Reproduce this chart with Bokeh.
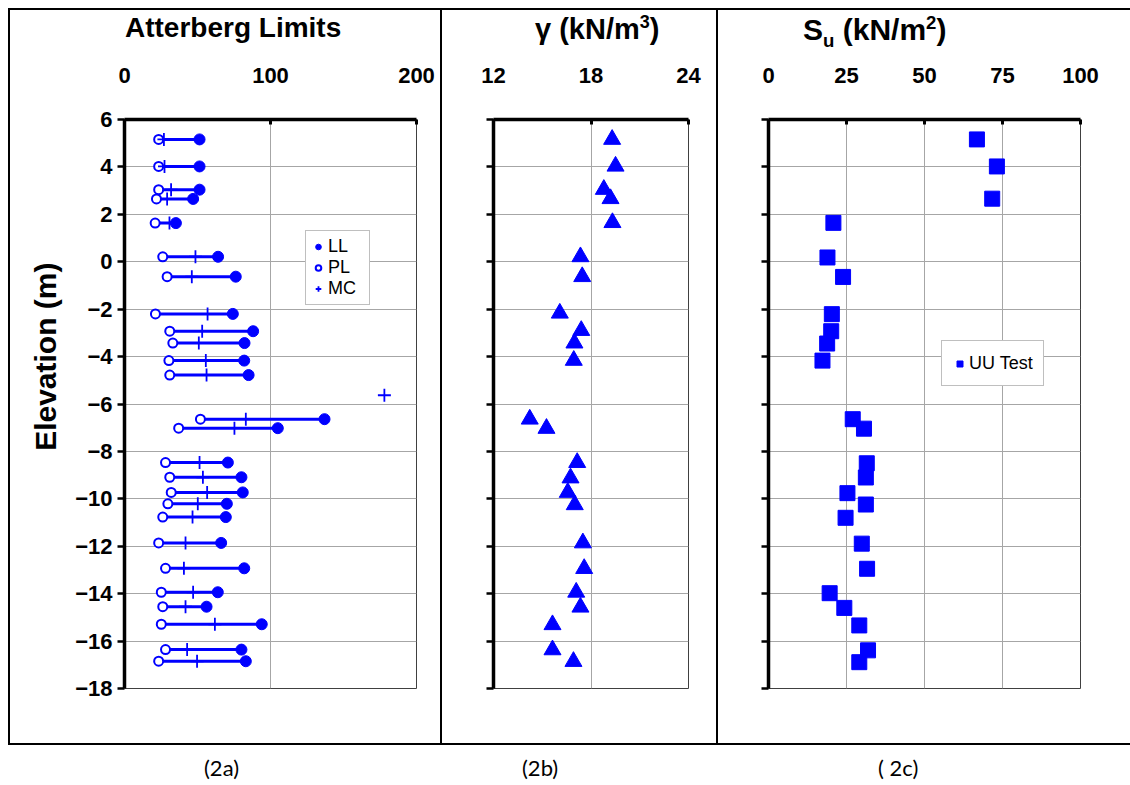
from bokeh.plotting import figure
from bokeh.models import (Range1d, FixedTicker, Title, Legend, LegendItem, Div,
                          CustomJSTickFormatter)
from bokeh.layouts import row, column
from bokeh.embed import file_html
from bokeh.resources import INLINE

# ---------------- data ----------------
# Atterberg limits
al_elev = [5.16, 4.02, 3.04, 2.65, 1.63, 0.21, -0.63, -2.20, -2.93, -3.43, -4.17, -4.78,
           -6.64, -7.02, -8.47, -9.09, -9.73, -10.21, -10.77, -11.86, -12.93, -13.94,
           -14.55, -15.29, -16.36, -16.85]
pl = [23.4, 23.4, 23.4, 21.9, 21.0, 26.2, 29.2, 21.2, 31.0, 33.1, 30.4, 31.0,
      52.0, 37.1, 28.1, 31.0, 32.0, 29.7, 26.2, 23.4, 28.1, 25.2, 26.2, 25.2, 28.1, 23.4]
mc = [27.0, 27.4, 31.9, 29.2, 30.8, 48.6, 46.1, 56.9, 53.2, 50.9, 55.7, 56.2,
      83.1, 75.3, 51.4, 53.7, 56.6, 50.2, 46.6, 41.8, 40.7, 47.0, 41.8, 61.9, 42.9, 49.7]
ll = [51.4, 51.4, 51.4, 47.0, 35.2, 64.1, 76.2, 74.2, 88.1, 82.2, 82.0, 85.0,
      137.0, 105.0, 70.8, 80.1, 81.0, 70.1, 69.4, 66.2, 82.0, 63.9, 56.2, 94.0, 80.1, 83.1]
mc_extra_elev = [-5.63]
mc_extra = [178.0]

# Unit weight
g_elev = [5.16, 4.03, 3.05, 2.66, 1.65, 0.21, -0.63, -2.17, -2.90, -3.43, -4.16,
          -6.64, -7.03, -8.47, -9.12, -9.73, -10.25, -11.86, -12.94, -13.94, -14.57,
          -15.31, -16.37, -16.86]
gamma = [19.30, 19.51, 18.79, 19.20, 19.32, 17.35, 17.46, 16.08, 17.40, 16.98, 16.94,
         14.23, 15.26, 17.15, 16.74, 16.57, 17.00, 17.50, 17.58, 17.09, 17.35,
         15.63, 15.63, 16.92]

# Undrained shear strength
s_elev = [5.16, 4.02, 2.66, 1.64, 0.18, -0.64, -2.21, -2.93, -3.45, -4.17,
          -6.64, -7.04, -8.50, -9.10, -9.76, -10.24, -10.80, -11.89, -12.95, -13.98,
          -14.60, -15.34, -16.39, -16.89]
su = [66.8, 73.2, 71.7, 20.8, 18.9, 23.9, 20.3, 20.1, 18.8, 17.3,
      27.0, 30.6, 31.5, 31.2, 25.3, 31.2, 24.7, 29.9, 31.6, 19.6,
      24.3, 29.1, 31.9, 29.1]

elev_ticks = list(range(-18, 7, 2))
al_ticks = [0, 100, 200]
g_ticks = [12, 18, 24]
su_ticks = [0, 25, 50, 75, 100]

titles = ["Atterberg Limits",
          "γ (kN/m<sup style='font-size:62%'>3</sup>)",
          "S<sub style='font-size:62%'>u</sub> (kN/m<sup style='font-size:62%'>2</sup>)"]
captions = ["(2a)", "(2b)", "( 2c)"]

# ---------------- style ----------------
BLUE = "#0000FF"
FONT = "Liberation Sans"
GRID = "#a6a6a6"
H = 689
TH = 48
BORDER = "2px solid black"
W = [434, 276, 412]


def style(p, xticks, show_ylabels):
    p.background_fill_color = "white"
    p.border_fill_color = "white"
    p.outline_line_color = "#404040"
    p.outline_line_width = 1
    xa = p.xaxis[0]
    xa.ticker = FixedTicker(ticks=xticks)
    xa.axis_line_width = 3.5
    xa.axis_line_color = "black"
    xa.major_tick_in = 5
    xa.major_tick_out = 0
    xa.major_tick_line_width = 3
    xa.minor_tick_line_color = None
    xa.major_label_text_font = FONT
    xa.major_label_text_font_style = "bold"
    xa.major_label_text_font_size = "22px"
    xa.major_label_text_color = "black"
    xa.major_label_standoff = 37
    ya = p.yaxis[0]
    ya.ticker = FixedTicker(ticks=elev_ticks)
    ya.axis_line_width = 3.5
    ya.axis_line_color = "black"
    ya.major_tick_in = 0
    ya.major_tick_out = 7
    ya.major_tick_line_width = 2.5
    ya.minor_tick_line_color = None
    ya.major_label_text_font = FONT
    ya.major_label_text_font_style = "bold"
    ya.major_label_text_font_size = "22px"
    ya.major_label_text_color = "black"
    ya.major_label_standoff = 5
    if not show_ylabels:
        ya.formatter = CustomJSTickFormatter(code="return ''")
    p.xgrid.grid_line_color = GRID
    p.ygrid.grid_line_color = GRID
    p.xgrid.grid_line_width = 1
    p.ygrid.grid_line_width = 1


# ---------------- panel a ----------------
p1 = figure(width=W[0], height=H, x_range=Range1d(0, 200), y_range=Range1d(-18, 6),
            x_axis_location="above", output_backend="svg", toolbar_location=None,
            min_border_left=114, min_border_right=28, min_border_top=63,
            min_border_bottom=57)
style(p1, al_ticks, True)
p1.add_layout(Title(text="Elevation (m)", align="right", offset=143, standoff=21,
                    text_font=FONT, text_font_style="bold", text_font_size="30px",
                    text_color="black"), "left")

p1.segment(x0=pl, y0=al_elev, x1=ll, y1=al_elev, line_color=BLUE, line_width=3)
r_pl = p1.scatter(pl, al_elev, marker="circle", size=9, fill_color="white",
                  line_color=BLUE, line_width=2)
r_mc = p1.scatter(mc + mc_extra, al_elev + mc_extra_elev, marker="cross", size=13,
                  line_color=BLUE, line_width=1.8)
r_ll = p1.scatter(ll, al_elev, marker="circle", size=11, fill_color=BLUE,
                  line_color=BLUE)
leg1 = Legend(items=[LegendItem(label="LL", renderers=[r_ll]),
                     LegendItem(label="PL", renderers=[r_pl]),
                     LegendItem(label="MC", renderers=[r_mc])],
              location=(181, 383))
leg1.border_line_color = "#7f7f7f"
leg1.background_fill_color = "white"
leg1.background_fill_alpha = 1
leg1.label_text_font = FONT
leg1.label_text_font_size = "18px"
leg1.label_text_color = "black"
leg1.glyph_width = 14
leg1.glyph_height = 17
leg1.label_height = 17
leg1.label_width = 36
leg1.label_standoff = 3
leg1.padding = 5
leg1.spacing = 0
leg1.margin = 0
p1.add_layout(leg1)
p1.styles = {"border-left": BORDER, "border-right": BORDER, "border-bottom": BORDER}

# ---------------- panel b ----------------
p2 = figure(width=W[1], height=H, x_range=Range1d(12, 24), y_range=Range1d(-18, 6),
            x_axis_location="above", output_backend="svg", toolbar_location=None,
            min_border_left=51, min_border_right=30, min_border_top=63,
            min_border_bottom=57)
style(p2, g_ticks, False)
p2.scatter(gamma, g_elev, marker="triangle", size=17, fill_color=BLUE, line_color=BLUE)
p2.styles = {"border-right": BORDER, "border-bottom": BORDER}

# ---------------- panel c ----------------
p3 = figure(width=W[2], height=H, x_range=Range1d(0, 100), y_range=Range1d(-18, 6),
            x_axis_location="above", output_backend="svg", toolbar_location=None,
            min_border_left=50, min_border_right=50, min_border_top=63,
            min_border_bottom=57)
style(p3, su_ticks, False)
r_su = p3.scatter(su, s_elev, marker="square", size=15, fill_color=BLUE, line_color=BLUE)
leg3 = Legend(items=[LegendItem(label="UU Test", renderers=[r_su])], location=(173, 302))
leg3.border_line_color = "#7f7f7f"
leg3.background_fill_color = "white"
leg3.background_fill_alpha = 1
leg3.label_text_font = FONT
leg3.label_text_font_size = "18px"
leg3.label_text_color = "black"
leg3.glyph_width = 15
leg3.glyph_height = 15
leg3.label_height = 24
leg3.label_standoff = 2
leg3.padding = 10
leg3.margin = 0
p3.add_layout(leg3)
p3.styles = {"border-bottom": BORDER}


# ---------------- titles and captions (HTML text) ----------------
def title_div(text, left, width, size, borders):
    html = ('<div style="position:relative;top:2px;left:%dpx;font-family:\'Liberation Sans\';'
            'font-weight:bold;font-size:%dpx;line-height:1.15;white-space:nowrap;'
            'color:black;">%s</div>' % (left, size, text))
    st = {b: BORDER for b in borders}
    return Div(text=html, width=width, height=TH, margin=0, styles=st)


t1 = title_div(titles[0], 115, W[0], 28, ["border-top", "border-left", "border-right"])
t2 = title_div(titles[1], 93, W[1], 29, ["border-top", "border-right"])
t3 = title_div(titles[2], 85, W[2], 30, ["border-top"])


def lab(text, left, width):
    html = ('<div style="position:relative;top:7px;left:%dpx;font-family:Lato;'
            'font-size:22px;white-space:nowrap;color:black;">%s</div>' % (left, text))
    return Div(text=html, width=width, height=24, margin=0)


labels = row(lab(captions[0], 196, W[0]), lab(captions[1], 80, W[1]),
             lab(captions[2], 160, W[2]))
layout = column(row(t1, t2, t3), row(p1, p2, p3), labels)
layout.styles = {"margin-left": "8px", "margin-top": "8px"}

open("out.html", "w").write(file_html(layout, INLINE))
